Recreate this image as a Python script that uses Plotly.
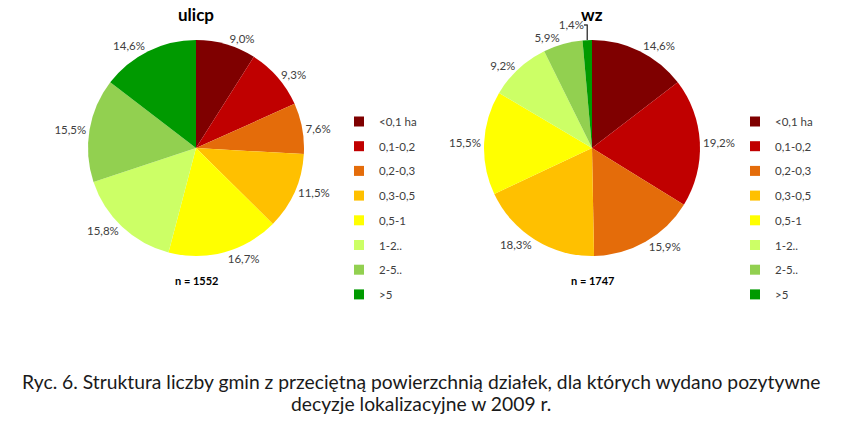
import plotly.graph_objects as go

categories = ["<0,1 ha", "0,1-0,2", "0,2-0,3", "0,3-0,5", "0,5-1", "1-2..", "2-5..", ">5"]
ulicp_values = [9.0, 9.3, 7.6, 11.5, 16.7, 15.8, 15.5, 14.6]
wz_values = [14.6, 19.2, 15.9, 18.3, 15.5, 9.2, 5.9, 1.4]
colors = ["#7F0000", "#C00000", "#E46C0A", "#FFC000", "#FFFF00", "#CCFF66", "#92D050", "#009A00"]
titles = ["ulicp", "wz"]
n_labels = ["n = 1552", "n = 1747"]
caption = ["Ryc. 6. Struktura liczby gmin z przeciętną powierzchnią działek, dla których wydano pozytywne",
           "decyzje lokalizacyjne w 2009 r."]

FONT = "Lato"
W, H = 844, 422

def px(x):
    return x / W

def py(y):
    return 1 - y / H

def fmt(v):
    return f"{v:.1f}".replace(".", ",") + "%"

fig = go.Figure()

R = 108
centers = [(196, 148), (592, 148)]
for vals, (cx, cy) in zip([ulicp_values, wz_values], centers):
    dom = dict(x=[px(cx - 1.3 * R), px(cx + 1.3 * R)], y=[py(cy + R), py(cy - R)])
    fig.add_trace(go.Pie(
        labels=categories, values=vals, sort=False, direction="clockwise", rotation=0,
        marker=dict(colors=colors, line=dict(width=0)),
        text=[fmt(v) for v in vals], textinfo="text", textposition="outside",
        outsidetextfont=dict(family=FONT, size=11.5, color="#404040"),
        showlegend=False, domain=dom, hoverinfo="label+text",
    ))

# legends via marker-only traces
for lname in ["legend", "legend2"]:
    for cat, col in zip(categories, colors):
        fig.add_trace(go.Scatter(
            x=[None], y=[None], mode="markers", name=cat,
            marker=dict(symbol="square", size=10, color=col),
            legend=lname, legendgroup=f"{lname}-{cat}", showlegend=True,
        ))

legend_common = dict(
    font=dict(family=FONT, size=11.5, color="#404040"),
    bgcolor="rgba(0,0,0,0)", tracegroupgap=5.7, itemwidth=30,
    xanchor="left", yanchor="top",
)
fig.update_layout(
    legend=dict(x=px(339), y=py(107), **legend_common),
    legend2=dict(x=px(735), y=py(107), **legend_common),
)

annotations = []
for (cx, _), t, nl in zip(centers, titles, n_labels):
    annotations.append(dict(x=px(cx), y=py(15), xref="paper", yref="paper", text=f"<b>{t}</b>",
                            showarrow=False, font=dict(family=FONT, size=17, color="#000000"),
                            xanchor="center", yanchor="middle"))
    annotations.append(dict(x=px(cx), y=py(280), xref="paper", yref="paper", text=f"<b>{nl}</b>",
                            showarrow=False, font=dict(family=FONT, size=11, color="#000000"),
                            xanchor="center", yanchor="middle"))
for yy, line in zip([381, 403], caption):
    annotations.append(dict(x=px(421), y=py(yy), xref="paper", yref="paper", text=line,
                            showarrow=False, font=dict(family=FONT, size=19.3, color="#1a1a1a"),
                            xanchor="center", yanchor="middle"))

fig.update_layout(
    width=W, height=H, margin=dict(l=0, r=0, t=0, b=0, autoexpand=False),
    paper_bgcolor="white", plot_bgcolor="white",
    xaxis=dict(visible=False), yaxis=dict(visible=False),
    annotations=annotations,
)
fig.write_html("out.html", config={"displayModeBar": False},
               post_script="document.body.style.margin='0';")
